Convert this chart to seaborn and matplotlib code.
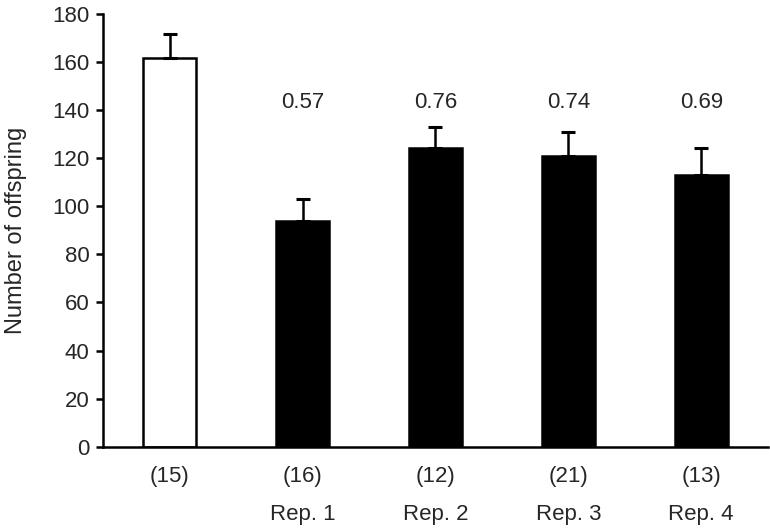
import numpy as np
import pandas as pd
import matplotlib
matplotlib.use('Agg')
import matplotlib.pyplot as plt
import seaborn as sns

# Values
groups = ['(15)', '(16)\nRep. 1', '(12)\nRep. 2', '(21)\nRep. 3', '(13)\nRep. 4']
offspring = [161.5, 94, 124, 121, 113]
sem = [10, 9, 9, 10, 11]
ratios = ['', '0.57', '0.76', '0.74', '0.69']
bar_colors = ['white', 'black', 'black', 'black', 'black']

df = pd.DataFrame({'group': groups, 'offspring': offspring})

sns.set_style('white')
plt.rcParams['font.family'] = ['Liberation Sans', 'DejaVu Sans']

fig, ax = plt.subplots(figsize=(7.7, 5.3), dpi=100)
fig.subplots_adjust(left=0.134, right=0.997, top=0.974, bottom=0.157)

sns.barplot(data=df, x='group', y='offspring', hue='group', palette=bar_colors,
            legend=False, width=0.4, edgecolor='black', linewidth=1.8, ax=ax)

# upward-only error bars
x = np.arange(len(groups))
ax.errorbar(x, offspring, yerr=[np.zeros(len(sem)), sem], fmt='none',
            ecolor='black', elinewidth=1.8, capsize=5, capthick=2.2, zorder=3)

# ratio labels above the replicate bars
for xi, r in zip(x, ratios):
    if r:
        ax.text(xi, 143, r, ha='center', va='center', fontsize=16)

ax.set_xlim(-0.5, len(groups) - 0.5)
ax.set_ylim(0, 180)
ax.set_yticks(range(0, 181, 20))
ax.set_ylabel('Number of offspring', fontsize=17, labelpad=18)
ax.set_xlabel('')

ax.set_xticks(x)
ax.set_xticklabels(groups, fontsize=16, linespacing=2.05)
ax.set_xticks(np.arange(-0.5, len(groups)), minor=True)
ax.tick_params(axis='x', which='major', length=0, pad=14)
ax.tick_params(axis='x', which='minor', length=6, width=1.8, direction='out', color='black')
ax.tick_params(axis='y', length=5, width=1.8, direction='out', color='black', labelsize=16, left=True, pad=5)

sns.despine(ax=ax)
for side in ['left', 'bottom']:
    ax.spines[side].set_color('black')
    ax.spines[side].set_linewidth(1.8)

fig.savefig('out.png', dpi=100)
